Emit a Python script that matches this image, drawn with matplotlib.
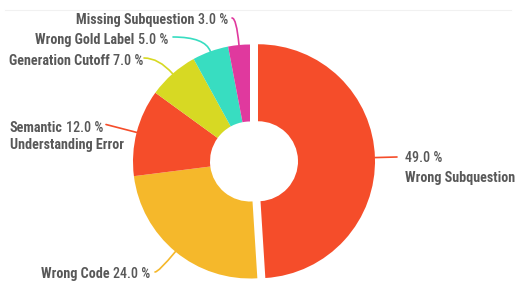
import math
import matplotlib
matplotlib.use('Agg')
import matplotlib.pyplot as plt

# Error categories, clockwise from 12 o'clock
labels = ['Wrong Subquestion', 'Wrong Code', 'Semantic\nUnderstanding Error',
          'Generation Cutoff', 'Wrong Gold Label', 'Missing Subquestion']
shares = [49.0, 24.0, 12.0, 7.0, 5.0, 3.0]
colors = ['#f54d2a', '#f5b82b', '#f54d2a', '#d7d923', '#38ddc1', '#e0399e']

W, H = 516, 281
GREY = '#585858'
FS = 10.2

plt.rcParams['font.family'] = ['Roboto Condensed', 'Roboto']

fig = plt.figure(figsize=(W / 100, H / 100), dpi=100)
ax = fig.add_axes([0, 0, 1, 1])

wedges, _ = ax.pie(shares, colors=colors, startangle=90, counterclock=False,
                   center=(250, H - 161.5), radius=117,
                   explode=[8, 0, 0, 0, 0, 0],
                   wedgeprops=dict(width=77, linewidth=0))

ax.set_xlim(0, W)
ax.set_ylim(0, H)
ax.set_aspect('equal')
ax.axis('off')

# faint rule at the top
ax.axhline(H - 10, xmin=0.01, xmax=0.99, color='#f1f1f1', lw=0.8)

# per slice: leader end (px), connection style, text mode, anchor (px)
layout = [
    ((397, 157), 'straight', 'below', (405, 162.5)),
    ((155, 272), 'curve', 'left', (150, 278)),
    ((106, 124.5), 'straight', 'semantic', (10, 131.5)),
    ((144, 58), 'curve', 'left', (143, 65)),
    ((173, 37), 'curve', 'left', (168, 44)),
    ((232, 18), 'curve', 'left', (228, 24)),
]

for w, lab, val, (end, style, mode, anchor) in zip(wedges, labels, shares, layout):
    mid = 0.5 * (w.theta1 + w.theta2)
    cx, cy = w.center
    px = cx + w.r * math.cos(math.radians(mid))
    py = cy + w.r * math.sin(math.radians(mid))
    if style == 'straight':
        cs = 'arc3,rad=0'
    else:
        cs = 'angle3,angleA=0,angleB=%.1f' % mid
    ax.annotate('', xy=(px, py), xytext=(end[0], H - end[1]),
                arrowprops=dict(arrowstyle='-', color=w.get_facecolor(), lw=1.2,
                                shrinkA=0, shrinkB=0, connectionstyle=cs))

    pct = '%.1f %%' % val
    tx, ty = anchor[0], H - anchor[1]
    if mode == 'left':
        t = ax.text(tx, ty, pct, ha='right', va='baseline', fontsize=FS,
                    color=GREY, fontweight='medium')
        ax.annotate(lab, xy=(0, 0), xycoords=t, xytext=(-3, 0),
                    textcoords='offset pixels', ha='right', va='bottom',
                    fontsize=FS, color=GREY, fontweight='bold')
    elif mode == 'below':
        ax.text(tx, ty, pct, ha='left', va='baseline', fontsize=FS,
                color=GREY, fontweight='medium')
        ax.text(tx, H - 182, lab, ha='left', va='baseline', fontsize=FS,
                color=GREY, fontweight='bold')
    else:
        first, second = lab.split('\n')
        t = ax.text(tx, ty, first, ha='left', va='baseline', fontsize=FS,
                    color=GREY, fontweight='bold')
        ax.annotate(pct, xy=(1, 0), xycoords=t, xytext=(3, 0),
                    textcoords='offset pixels', ha='left', va='bottom',
                    fontsize=FS, color=GREY, fontweight='medium')
        ax.text(tx, H - 149, second, ha='left', va='baseline', fontsize=FS,
                color=GREY, fontweight='bold')

fig.savefig('out.png', dpi=100)
